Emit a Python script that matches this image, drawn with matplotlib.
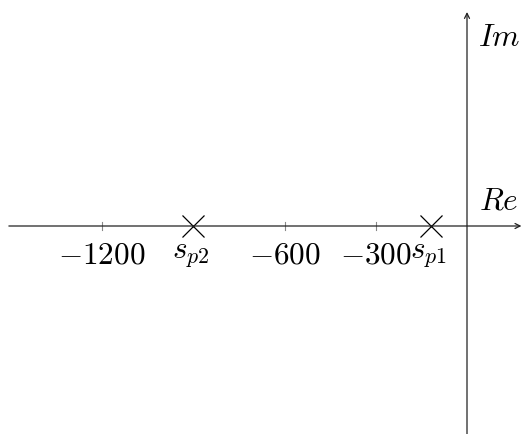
import matplotlib
matplotlib.use("Agg")
import matplotlib.pyplot as plt

plt.rcParams['mathtext.fontset'] = 'cm'

# tick positions on the real axis
tick_values = [-1200, -600, -300]
tick_labels = ['$-1200$', '$-600$', '$-300$']

# poles
pole_values = [-900, -118]
pole_labels = ['$s_{p2}$', '$s_{p1}$']

fig = plt.figure(figsize=(5.22, 4.35), dpi=100)
ax = fig.add_axes([0, 0, 1, 1])
ax.axis('off')

# 0.304 px per unit horizontally, origin at pixel (467, 227)
ax.set_xlim(-467 / 0.304, 55 / 0.304)
ax.set_ylim(-208, 227)

# axes with arrows
arrow = dict(arrowstyle='->', lw=0.9, color='#222222', mutation_scale=9,
             shrinkA=0, shrinkB=0)
ax.annotate('', xy=(179, 0), xytext=(-1507, 0), arrowprops=arrow)
ax.annotate('', xy=(0, 214), xytext=(0, -210), arrowprops=arrow)

# ticks and labels
fs = 22.5
for v, lab in zip(tick_values, tick_labels):
    ax.plot([v, v], [-4, 4], color='#888888', lw=0.8)
    ax.text(v, -14, lab, ha='center', va='top', fontsize=fs)

# poles
ax.plot(pole_values, [0] * len(pole_values), 'x', color='black',
        markersize=16.5, markeredgewidth=0.9)
for v, lab in zip(pole_values, pole_labels):
    ax.text(v - 10, -14, lab, ha='center', va='top', fontsize=fs)

ax.text(38, 11, '$Re$', ha='left', va='bottom', fontsize=fs)
ax.text(36, 189, '$Im$', ha='left', va='center', fontsize=fs)

fig.savefig('out.png', dpi=100)
